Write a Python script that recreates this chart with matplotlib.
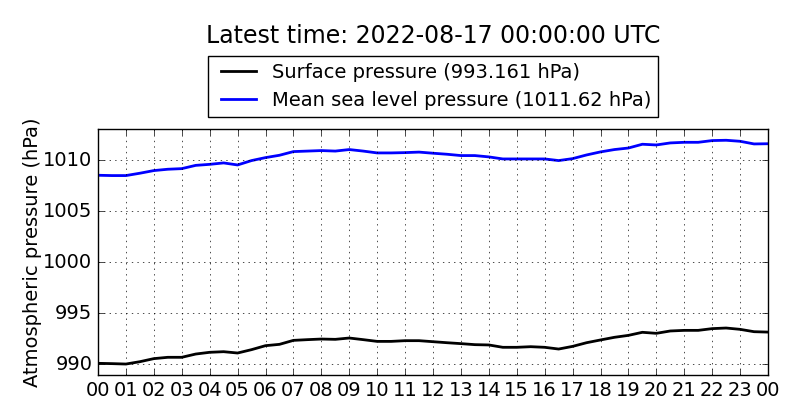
import matplotlib
matplotlib.use("Agg")
import matplotlib.pyplot as plt
import numpy as np

plt.style.use("classic")

# half-hour steps from 00 UTC to 00 UTC next day
hours = np.arange(0, 24.5, 0.5)

msl = [1008.53, 1008.50, 1008.50, 1008.73, 1008.99, 1009.12, 1009.18, 1009.50,
       1009.60, 1009.74, 1009.54, 1009.97, 1010.26, 1010.49, 1010.85, 1010.90,
       1010.95, 1010.90, 1011.05, 1010.90, 1010.72, 1010.72, 1010.75, 1010.80,
       1010.69, 1010.59, 1010.46, 1010.46, 1010.33, 1010.13, 1010.13, 1010.13,
       1010.13, 1009.97, 1010.16, 1010.52, 1010.82, 1011.05, 1011.20, 1011.57,
       1011.50, 1011.70, 1011.76, 1011.76, 1011.93, 1011.96, 1011.86, 1011.60,
       1011.62]

surface = [990.10, 990.07, 990.03, 990.26, 990.56, 990.69, 990.69, 991.01,
           991.18, 991.24, 991.11, 991.44, 991.83, 991.96, 992.35, 992.42,
           992.48, 992.45, 992.58, 992.42, 992.25, 992.25, 992.32, 992.32,
           992.22, 992.12, 992.03, 991.93, 991.90, 991.67, 991.67, 991.73,
           991.67, 991.50, 991.76, 992.12, 992.39, 992.65, 992.84, 993.14,
           993.04, 993.27, 993.33, 993.33, 993.50, 993.56, 993.43, 993.20,
           993.161]

tick_hours = list(range(0, 25))
tick_labels = ["%02d" % (h % 24) for h in tick_hours]

fig = plt.figure(figsize=(8, 4.2), dpi=100, facecolor="white")
ax = fig.add_axes([0.1225, 0.107, 0.8375, 0.586])

ax.plot(hours, surface, color="black", lw=2,
        label="Surface pressure (%s hPa)" % surface[-1])
ax.plot(hours, msl, color="blue", lw=2,
        label="Mean sea level pressure (%s hPa)" % msl[-1])

ax.set_xlim(0, 24)
ax.set_ylim(988.95, 1013.07)
ax.set_xticks(tick_hours)
ax.set_xticklabels(tick_labels)
ax.set_yticks([990, 995, 1000, 1005, 1010])
ax.yaxis.get_major_formatter().set_useOffset(False)
ax.tick_params(labelsize=14)
ax.grid(True)
ax.set_ylabel("Atmospheric pressure (hPa)", fontsize=14, labelpad=1)

ax.legend(loc="lower center", bbox_to_anchor=(0.5, 1.05), fontsize=14,
          handlelength=2.4, handletextpad=0.5, borderpad=0.35,
          labelspacing=0.45, borderaxespad=0, frameon=True)
fig.text(0.541, 0.914, "Latest time: 2022-08-17 00:00:00 UTC",
         ha="center", va="center", fontsize=17)

fig.savefig("out.png", dpi=100, facecolor="white")
